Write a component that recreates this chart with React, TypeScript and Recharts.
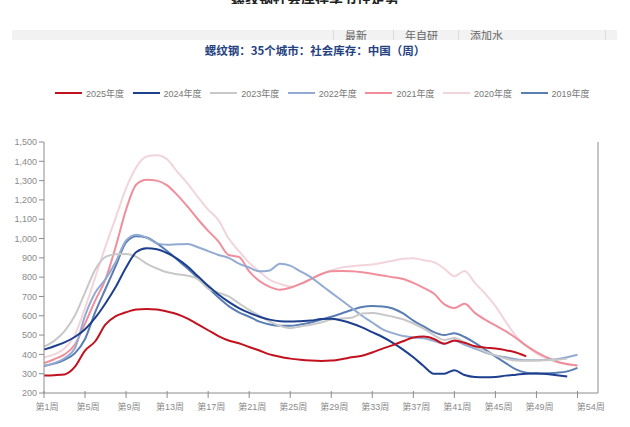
import React from 'react';
import { LineChart, Line, XAxis, YAxis, ReferenceLine } from 'recharts';

const W = 630;
const H = 427;
const X_AXIS_H = 30;
const MARGIN = { top: 142, right: 32, bottom: 4, left: 0 };
const PLOT_BOTTOM = H - MARGIN.bottom - X_AXIS_H;

// 周次
const weeks = [
  1, 2, 3, 4, 5, 6, 7, 8, 9, 10, 11, 12, 13, 14, 15, 16, 17, 18, 19, 20,
  21, 22, 23, 24, 25, 26, 27, 28, 29, 30, 31, 32, 33, 34, 35, 36, 37, 38, 39, 40,
  41, 42, 43, 44, 45, 46, 47, 48, 49, 50, 51, 52, 53,
];

const xTicks = [1, 5, 9, 13, 17, 21, 25, 29, 33, 37, 41, 45, 49, 53, 54];
const xLabelWeeks = [1, 5, 9, 13, 17, 21, 25, 29, 33, 37, 41, 45, 49, 54];
const yTicks = [200, 300, 400, 500, 600, 700, 800, 900, 1000, 1100, 1200, 1300, 1400, 1500];

// 社会库存 (万吨)
const s2025 = [
  290, 292, 296, 335, 420, 468, 555, 598, 618, 632, 635, 632, 622, 608, 585, 555, 525, 495, 472, 458,
  438, 420, 400, 388, 378, 372, 368, 366, 368, 375, 385, 393, 410, 430, 448, 468, 488, 492, 480, 455,
  472, 460, 442, 435, 430, 422, 410, 390,
];
const s2024 = [
  425, 442, 462, 490, 530, 590, 665, 750, 850, 930, 950, 945, 925, 895, 855, 805, 755, 710, 672, 640,
  615, 595, 580, 572, 570, 572, 575, 583, 585, 575, 560, 540, 515, 490, 460, 425, 385, 340, 300, 300,
  318, 293, 283, 282, 283, 290, 295, 300, 302, 298, 292, 285,
];
const s2023 = [
  440, 470, 520, 600, 720, 840, 905, 918, 920, 905, 870, 845, 825, 815, 808, 790, 740, 720, 700, 665,
  630, 600, 570, 548, 536, 545, 553, 565, 580, 586, 590, 612, 614, 607, 595, 582, 560, 533, 500, 475,
  485, 462, 440, 415, 395, 378, 368, 367, 368, 370, 372, 378,
];
const s2022 = [
  340, 355, 380, 430, 600, 720, 790, 880, 990, 1020, 1005, 975, 968, 970, 972, 955, 935, 915, 900, 870,
  850, 830, 835, 870, 860, 830, 800, 760, 720, 680, 640, 600, 565, 530, 510, 495, 488, 484, 470, 455,
  470, 450, 430, 410, 395, 385, 375, 370, 370, 372, 375, 385, 398,
];
const s2021 = [
  355, 375, 400, 450, 560, 680, 790, 960, 1150, 1280, 1305, 1300, 1275, 1225, 1165, 1100, 1040, 985, 915, 905,
  830, 780, 750, 735, 745, 765, 790, 815, 830, 832, 830, 825, 818, 808, 800, 790, 770, 745, 715, 660,
  640, 662, 615, 580, 550, 520, 485, 445, 412, 385, 362, 350, 342,
];
const s2020 = [
  385, 400, 430, 500, 640, 800, 960, 1110, 1260, 1370, 1425, 1432, 1410, 1345, 1285, 1215, 1150, 1095, 1000, 935,
  875, 830, 786, 765, 752, 765, 790, 815, 835, 850, 857, 862, 866, 875, 885, 895, 898, 888, 878, 845,
  805, 832, 770, 715, 650, 570, 495, 445, 405, 378, 360, 348, 342,
];
const s2019 = [
  340, 352, 372, 405, 480, 620, 740, 860, 980, 1012, 1005, 975, 935, 890, 845, 795, 745, 695, 650, 618,
  595, 570, 555, 548, 548, 555, 565, 580, 595, 612, 630, 645, 650, 648, 638, 612, 575, 545, 515, 500,
  510, 490, 460, 425, 390, 355, 322, 305, 300, 302, 305, 312, 330,
];

const series = [
  { key: 'y2025', name: '2025年度', color: '#c2111f', width: 2, values: s2025 },
  { key: 'y2024', name: '2024年度', color: '#1d3f8e', width: 2, values: s2024 },
  { key: 'y2023', name: '2023年度', color: '#c8c8c8', width: 2, values: s2023 },
  { key: 'y2022', name: '2022年度', color: '#93abd3', width: 2, values: s2022 },
  { key: 'y2021', name: '2021年度', color: '#f08e9b', width: 2, values: s2021 },
  { key: 'y2020', name: '2020年度', color: '#f1d5db', width: 2, values: s2020 },
  { key: 'y2019', name: '2019年度', color: '#5a7db4', width: 2, values: s2019 },
];

const data = weeks.map((w, i) => {
  const row: { [k: string]: number | null } = { week: w };
  series.forEach((s) => {
    row[s.key] = s.values[i] ?? null;
  });
  return row;
});

const FONT = '"Liberation Sans Narrow", "Liberation Sans", "Noto Sans CJK SC", sans-serif';
const AXIS = '#8c8c8c';

const WeekTick = ({ x, payload }: any) => {
  const w = payload.value;
  return (
    <g>
      {w !== 54 && <line x1={x} x2={x} y1={PLOT_BOTTOM - 2} y2={PLOT_BOTTOM + 5} stroke={AXIS} />}
      {xLabelWeeks.includes(w) && (
        <text x={x + 3} y={PLOT_BOTTOM + 17} textAnchor="middle" fontSize={9} fill="#8a8a8a" fontFamily={FONT}>
          {`第${w}周`}
        </text>
      )}
    </g>
  );
};

const toolbar = [
  { label: '最新', left: 345 },
  { label: '年自研', left: 405 },
  { label: '添加水', left: 470 },
];

export default function App() {
  return (
    <div style={{ position: 'relative', width: W, height: H, background: '#fff', overflow: 'hidden' }}>
      <style>{'body{margin:0}'}</style>

      {/* 截图上沿残留文字 */}
      <div style={{ position: 'absolute', top: 0, left: 0, width: W, height: 4, overflow: 'hidden' }}>
        <div style={{ position: 'absolute', top: -12, left: 0, width: W, textAlign: 'center', fontSize: 14, fontWeight: 700, color: '#222', fontFamily: '"Noto Sans CJK SC"' }}>
          螺纹钢社会库存季节性走势
        </div>
      </div>

      {/* 工具栏 */}
      <div style={{ position: 'absolute', top: 30, left: 12, width: 605, height: 10, background: '#f2f2f2', overflow: 'hidden' }}>
        {toolbar.map((t) => (
          <div key={t.label} style={{ position: 'absolute', top: -2, left: t.left - 12, fontSize: 11, color: '#666', fontFamily: '"Noto Sans CJK SC"', lineHeight: '14px' }}>
            {t.label}
          </div>
        ))}
        {[321, 381, 446, 593].map((x) => (
          <div key={x} style={{ position: 'absolute', top: 0, left: x, width: 1, height: 10, background: '#dcdcdc' }} />
        ))}
      </div>

      {/* 标题 */}
      <div style={{ position: 'absolute', top: 43, left: 0, width: W, textAlign: 'center', fontSize: 11.5, fontWeight: 700, color: '#24427f', fontFamily: '"Noto Sans CJK SC"', lineHeight: '14px' }}>
        螺纹钢：35个城市：社会库存：中国（周）
      </div>

      {/* 图例 */}
      {series.map((s, i) => (
        <div key={s.key} style={{ position: 'absolute', top: 87, left: 55 + i * 77.6, display: 'flex', alignItems: 'center', height: 12 }}>
          <div style={{ width: 27, height: 2.5, background: s.color, marginRight: 4 }} />
          <span style={{ fontSize: 9, color: '#777', fontFamily: FONT }}>{s.name}</span>
        </div>
      ))}

      <div style={{ position: 'absolute', top: 0, left: 0 }}>
        <LineChart width={W} height={H} data={data} margin={MARGIN}>
          <XAxis
            dataKey="week"
            type="number"
            domain={[1, 55]}
            ticks={xTicks}
            interval={0}
            height={X_AXIS_H}
            tick={<WeekTick />}
            tickLine={false}
            axisLine={{ stroke: AXIS }}
            allowDataOverflow
          />
          <YAxis
            width={44}
            domain={[200, 1500]}
            ticks={yTicks}
            interval={0}
            tickSize={5}
            tickMargin={2}
            tick={{ fontSize: 9, fill: '#8a8a8a', fontFamily: FONT }}
            tickFormatter={(v: number) => v.toLocaleString('en-US')}
            stroke={AXIS}
            allowDataOverflow
          />
          <ReferenceLine x={55} stroke={AXIS} />
          {[...series].reverse().map((s) => (
            <Line
              key={s.key}
              type="monotone"
              dataKey={s.key}
              stroke={s.color}
              strokeWidth={s.width}
              dot={false}
              activeDot={false}
              connectNulls={false}
              isAnimationActive={false}
            />
          ))}
        </LineChart>
      </div>
    </div>
  );
}
